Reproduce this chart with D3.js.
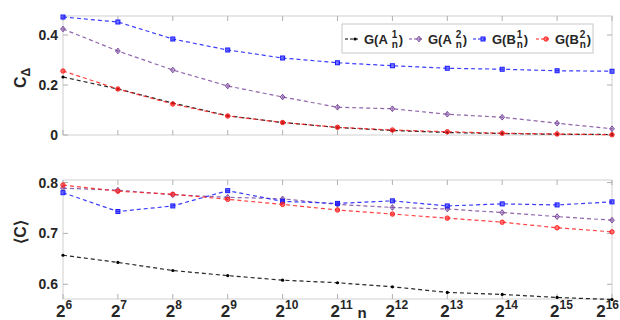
<!DOCTYPE html>
<html>
<head>
<meta charset="utf-8">
<script src="https://d3js.org/d3.v7.min.js"></script>
<style>
  body { margin: 0; background: #fff; }
  text { font-family: "Liberation Sans", Arial, sans-serif; font-weight: bold; fill: #262626; }
</style>
</head>
<body>
<svg width="620" height="320"></svg>
<script>
// exponents of n = 2^k
var exps = [6, 7, 8, 9, 10, 11, 12, 13, 14, 15, 16];

// top panel: C_delta
var cdA1 = [0.232, 0.184, 0.128, 0.077, 0.050, 0.030, 0.018, 0.010, 0.006, 0.003, 0.002];
var cdA2 = [0.424, 0.336, 0.260, 0.196, 0.152, 0.111, 0.105, 0.083, 0.071, 0.047, 0.025];
var cdB1 = [0.472, 0.452, 0.384, 0.340, 0.308, 0.289, 0.277, 0.267, 0.263, 0.257, 0.255];
var cdB2 = [0.256, 0.184, 0.124, 0.076, 0.050, 0.031, 0.020, 0.013, 0.007, 0.004, 0.001];

// bottom panel: <C>
var cA1 = [0.657, 0.643, 0.627, 0.617, 0.608, 0.603, 0.595, 0.584, 0.580, 0.574, 0.570];
var cA2 = [0.789, 0.785, 0.776, 0.771, 0.768, 0.757, 0.751, 0.748, 0.741, 0.733, 0.726];
var cB1 = [0.780, 0.743, 0.754, 0.784, 0.763, 0.759, 0.764, 0.754, 0.758, 0.756, 0.762];
var cB2 = [0.795, 0.783, 0.777, 0.767, 0.757, 0.746, 0.738, 0.730, 0.722, 0.711, 0.703];

var topTicks = [0, 0.2, 0.4];
var botTicks = [0.6, 0.7, 0.8];

var series = [
  { key: "A1", color: "#000000", marker: "dot", top: cdA1, bot: cA1, base: "A", sup: "1", gap: true },
  { key: "A2", color: "#7b4a9e", marker: "diamond", top: cdA2, bot: cA2, base: "A", sup: "2", gap: true },
  { key: "B1", color: "#1a1aff", marker: "square", top: cdB1, bot: cB1, base: "B", sup: "1", gap: false },
  { key: "B2", color: "#ff2020", marker: "circle", top: cdB2, bot: cB2, base: "B", sup: "2", gap: false }
];

var svg = d3.select("svg");
var left = 63, right = 612;

var x = d3.scaleLinear().domain([6, 16]).range([left, right]);

var panels = [
  { y: d3.scaleLinear().domain([0, 0.476]).range([135, 16]), ticks: topTicks, field: "top", fmt: d3.format("") },
  { y: d3.scaleLinear().domain([0.571, 0.805]).range([299, 180]), ticks: botTicks, field: "bot", fmt: d3.format(".1f") }
];

function drawMarker(g, type, cx, cy, color) {
  if (type === "dot") {
    g.append("circle").attr("cx", cx).attr("cy", cy).attr("r", 1.6).attr("fill", color);
  } else if (type === "square") {
    g.append("rect").attr("x", cx - 2).attr("y", cy - 2).attr("width", 4).attr("height", 4)
      .attr("fill", color).attr("fill-opacity", 0.6).attr("stroke", color).attr("stroke-width", 1);
  } else if (type === "circle") {
    g.append("circle").attr("cx", cx).attr("cy", cy).attr("r", 2.2)
      .attr("fill", color).attr("fill-opacity", 0.6).attr("stroke", color).attr("stroke-width", 1);
  } else if (type === "diamond") {
    g.append("path").attr("d", "M" + cx + "," + (cy - 2.8) + "L" + (cx + 2.3) + "," + cy + "L" + cx + "," + (cy + 2.8) + "L" + (cx - 2.3) + "," + cy + "Z")
      .attr("fill", "none").attr("stroke", color).attr("stroke-width", 1);
    g.append("path").attr("d", "M" + (cx - 2.3) + "," + cy + "H" + (cx + 2.3) + "M" + cx + "," + (cy - 2.8) + "V" + (cy + 2.8))
      .attr("stroke", color).attr("stroke-width", 0.7);
  }
}

panels.forEach(function(p, pi) {
  var g = svg.append("g");
  var y = p.y;
  var y0 = y.range()[0], y1 = y.range()[1];

  // box
  g.append("rect").attr("x", left).attr("y", y1).attr("width", right - left).attr("height", y0 - y1)
    .attr("fill", "none").attr("stroke", "#d0d0d0").attr("stroke-width", 1);

  // x ticks (inward, bottom and top)
  exps.forEach(function(e) {
    g.append("line").attr("x1", x(e)).attr("x2", x(e)).attr("y1", y0).attr("y2", y0 - 5).attr("stroke", "#b0b0b0");
    g.append("line").attr("x1", x(e)).attr("x2", x(e)).attr("y1", y1).attr("y2", y1 + 5).attr("stroke", "#b0b0b0");
  });
  // y ticks and labels
  p.ticks.forEach(function(t) {
    g.append("line").attr("x1", left).attr("x2", left + 5).attr("y1", y(t)).attr("y2", y(t)).attr("stroke", "#b0b0b0");
    g.append("line").attr("x1", right).attr("x2", right - 5).attr("y1", y(t)).attr("y2", y(t)).attr("stroke", "#b0b0b0");
    g.append("text").attr("x", left - 5).attr("y", y(t) + 5).attr("text-anchor", "end")
      .style("font-size", "14px").text(p.fmt(t));
  });

  // lines and markers
  var line = d3.line().x(function(d, i) { return x(exps[i]); }).y(function(d) { return y(d); });
  series.forEach(function(s) {
    g.append("path").datum(s[p.field]).attr("d", line)
      .attr("fill", "none").attr("stroke", s.color).attr("stroke-width", 1.2)
      .attr("stroke-dasharray", "4,3").attr("opacity", 0.85);
    s[p.field].forEach(function(v, i) {
      drawMarker(g, s.marker, x(exps[i]), y(v), s.color);
    });
  });
});

// x tick labels 2^k (last one kept inside the page)
exps.forEach(function(e, i) {
  var last = i === exps.length - 1;
  var t = svg.append("text").attr("x", last ? 619 : x(e) - 7).attr("y", 317)
    .attr("text-anchor", last ? "end" : "start")
    .style("font-size", "17px");
  t.append("tspan").text("2");
  t.append("tspan").attr("dy", -8).style("font-size", "12px").text(e);
});

// x label
svg.append("text").attr("x", 362).attr("y", 318).attr("text-anchor", "middle").style("font-size", "15px").text("n");

// y labels
svg.append("text").attr("transform", "translate(26,78) rotate(-90)").attr("text-anchor", "middle")
  .style("font-size", "16px")
  .call(function(t) {
    t.append("tspan").text("C");
    t.append("tspan").attr("dy", 4).style("font-size", "12px").text("\u0394");
  });
svg.append("text").attr("transform", "translate(26,232) rotate(-90)").attr("text-anchor", "middle")
  .style("font-size", "16px").text("\u27E8C\u27E9");

// legend
var leg = svg.append("g");
leg.append("rect").attr("x", 342).attr("y", 24).attr("width", 251).attr("height", 29)
  .attr("fill", "#fff").attr("stroke", "#c8c8c8");
var legX = [345, 409, 473, 536];
series.forEach(function(s, i) {
  var lx = legX[i], ly = 39;
  leg.append("line").attr("x1", lx).attr("x2", lx + 15).attr("y1", ly).attr("y2", ly)
    .attr("stroke", s.color).attr("stroke-width", 1.2).attr("stroke-dasharray", "3,2");
  drawMarker(leg, s.marker, lx + 10, ly, s.color);
  var tx = lx + 19;
  var t = leg.append("text").attr("x", tx).attr("y", ly + 5).style("font-size", "13px");
  t.text("G(" + s.base);
  var w = t.node().getComputedTextLength() + (s.gap ? 4 : 1);
  leg.append("text").attr("x", tx + w).attr("y", ly - 1).style("font-size", "10px").text(s.sup);
  leg.append("text").attr("x", tx + w).attr("y", ly + 9).style("font-size", "10px").text("n");
  leg.append("text").attr("x", tx + w + 7).attr("y", ly + 5).style("font-size", "13px").text(")");
});
</script>
</body>
</html>
